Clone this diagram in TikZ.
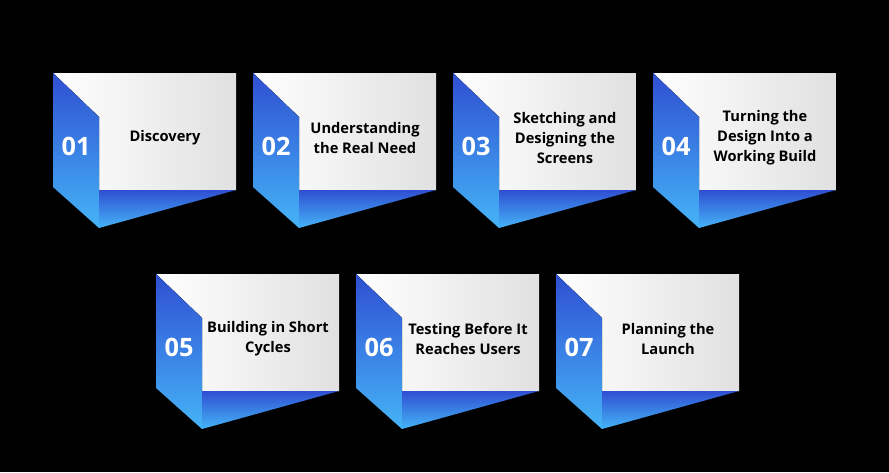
\documentclass[tikz,border=0pt]{standalone}
\usepackage{fontspec}
\setmainfont{Open Sans}
\usetikzlibrary{positioning}
\definecolor{topblue}{HTML}{2F4FD2}
\definecolor{lowblue}{HTML}{45B4F7}
\tikzset{
    face/.style={top color=topblue, bottom color=lowblue, draw=none},
    paper/.style={left color=white, right color=black!12, draw=none},
    num/.style={text=white, font=\fontsize{19}{22}\selectfont\bfseries},
    caption/.style={align=center, text=black, font=\fontsize{11}{15}\selectfont\bfseries}
}
% one step card, #1/#2 = top left corner (px), #3 = number, #4 = text
\def\card#1#2#3#4{%
    \begin{scope}[shift={(#1,#2)}]
        \fill[paper] (0,0) -- (183,0) -- (183,117) -- (46,117) -- (46,44) -- cycle;
        \fill[face] (0,0) -- (46,44) -- (46,155) -- (0,114) -- cycle;
        \shade[top color=topblue, bottom color=lowblue] (46,117) -- (183,117) -- (46,155) -- cycle;
        \node[num] (n#3) at (23,73) {#3};
        \node[caption] (t#3) at (112,65) {#4};
    \end{scope}
}
\begin{document}
\begin{tikzpicture}[x=0.75pt, y=-0.75pt]
    \fill[black] (0,0) rectangle (889,472);
    \useasboundingbox (0,0) rectangle (889,472);

    \card{53}{73}{01}{Discovery}
    \card{253}{73}{02}{Understanding\\the Real Need}
    \card{453}{73}{03}{Sketching and\\Designing the\\Screens}
    \card{653}{73}{04}{Turning the\\Design Into a\\Working Build}
    \card{156}{274}{05}{Building in Short\\Cycles}
    \card{356}{274}{06}{Testing Before It\\Reaches Users}
    \card{556}{274}{07}{Planning the\\Launch}
\end{tikzpicture}
\end{document}
